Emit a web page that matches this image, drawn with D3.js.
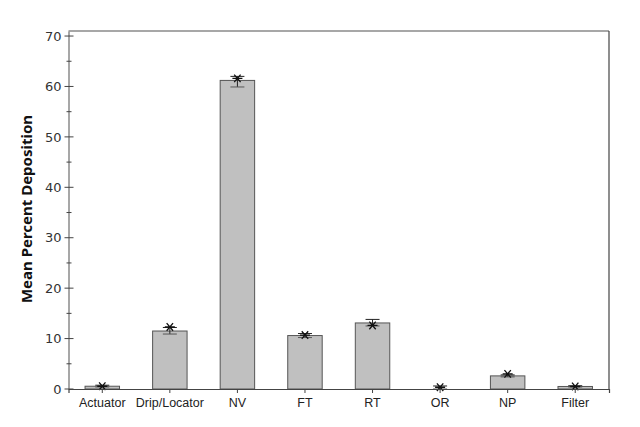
<!DOCTYPE html>
<html>
<head>
<meta charset="utf-8">
<script src="https://cdn.jsdelivr.net/npm/d3@7"></script>
<style>
  body { margin: 0; background: #fff; }
  text { font-family: "Noto Sans", "Open Sans", sans-serif; }
</style>
</head>
<body>
<div id="chart"></div>
<script>
// categories and values
var categories = ["Actuator", "Drip/Locator", "NV", "FT", "RT", "OR", "NP", "Filter"];
var means      = [0.55, 11.5, 61.2, 10.6, 13.1, 0, 2.6, 0.5];
var errLow     = [0.4, 10.9, 59.9, 10.2, 12.5, 0.0, 2.4, 0.4];
var errHigh    = [0.75, 12.2, 62.0, 11.0, 13.8, 0.6, 2.8, 0.65];
var stars      = [0.55, 12.3, 61.6, 10.7, 12.6, 0.35, 3.0, 0.5];
var yTicks     = [0, 10, 20, 30, 40, 50, 60, 70];

var rows = categories.map(function(c, i) {
	return {cat: c, mean: means[i], lo: errLow[i], hi: errHigh[i], star: stars[i]};
});

var margin = {top: 31, right: 31, bottom: 38, left: 68.5};
var width = 640 - margin.left - margin.right;
var height = 427 - margin.top - margin.bottom;

var svg = d3.select("#chart").append("svg")
	.attr("width", 640)
	.attr("height", 427)
	.append("g")
	.attr("transform", "translate(" + margin.left + "," + margin.top + ")");

var x = d3.scaleBand()
	.domain(categories)
	.range([0, width])
	.paddingInner(0.49)
	.paddingOuter(0.245);

var y = d3.scaleLinear()
	.domain([0, 71])
	.range([height, 0]);

// box: top and right
svg.append("line").attr("x1", 0).attr("x2", width).attr("y1", 0).attr("y2", 0)
	.attr("stroke", "#8a8a8a").attr("stroke-width", 1.5);
svg.append("line").attr("x1", width).attr("x2", width).attr("y1", 0).attr("y2", height)
	.attr("stroke", "#444").attr("stroke-width", 1.2);

// bars
svg.selectAll(".bar")
	.data(rows.filter(function(d) { return d.mean > 0; }))
	.enter().append("rect")
	.attr("class", "bar")
	.attr("x", function(d) { return x(d.cat); })
	.attr("width", x.bandwidth())
	.attr("y", function(d) { return y(d.mean); })
	.attr("height", function(d) { return height - y(d.mean); })
	.attr("fill", "#c0c0c0")
	.attr("stroke", "#555")
	.attr("stroke-width", 1);

// error bars
var cap = 7;
var eb = svg.selectAll(".err").data(rows).enter().append("g")
	.attr("class", "err")
	.attr("stroke", "#222")
	.attr("stroke-width", 1);
eb.append("line")
	.attr("x1", function(d) { return x(d.cat) + x.bandwidth() / 2; })
	.attr("x2", function(d) { return x(d.cat) + x.bandwidth() / 2; })
	.attr("y1", function(d) { return y(d.lo); })
	.attr("y2", function(d) { return y(d.hi); });
eb.append("line")
	.attr("x1", function(d) { return x(d.cat) + x.bandwidth() / 2 - cap; })
	.attr("x2", function(d) { return x(d.cat) + x.bandwidth() / 2 + cap; })
	.attr("y1", function(d) { return y(d.hi); })
	.attr("y2", function(d) { return y(d.hi); });
eb.append("line")
	.attr("x1", function(d) { return x(d.cat) + x.bandwidth() / 2 - cap; })
	.attr("x2", function(d) { return x(d.cat) + x.bandwidth() / 2 + cap; })
	.attr("y1", function(d) { return y(d.lo); })
	.attr("y2", function(d) { return y(d.lo); })
	.attr("stroke", "#555");

// star markers
var starPath = "M-5,0L5,0M-3.2,-3.8L3.2,3.8M-3.2,3.8L3.2,-3.8";
svg.selectAll(".star").data(rows).enter().append("path")
	.attr("class", "star")
	.attr("d", starPath)
	.attr("transform", function(d) {
		return "translate(" + (x(d.cat) + x.bandwidth() / 2) + "," + y(d.star) + ")";
	})
	.attr("stroke", "#111")
	.attr("stroke-width", 1.3)
	.attr("fill", "none");

// y axis
var yAxis = svg.append("g")
	.call(d3.axisLeft(y).tickValues(yTicks).tickSize(0).tickPadding(7));
yAxis.select(".domain").attr("stroke", "#8a8a8a").attr("stroke-width", 1.5);
yAxis.selectAll("text")
	.style("font-family", "'DejaVu Sans', sans-serif")
	.style("font-size", "13px").attr("fill", "#333");

svg.selectAll(".ytick")
	.data(d3.range(0, 71, 5))
	.enter().append("line")
	.attr("class", "ytick")
	.attr("x1", function(d) { return d % 10 === 0 ? -4 : -2; })
	.attr("x2", function(d) { return d % 10 === 0 ? 5 : 3; })
	.attr("y1", function(d) { return y(d); })
	.attr("y2", function(d) { return y(d); })
	.attr("stroke", "#444")
	.attr("stroke-width", 1);

// x axis
var xAxis = svg.append("g")
	.attr("transform", "translate(0," + height + ")")
	.call(d3.axisBottom(x).tickSize(4).tickPadding(5));
xAxis.select(".domain").attr("stroke", "#444").attr("stroke-width", 1.2);
xAxis.selectAll(".tick line").attr("stroke", "#444");
xAxis.selectAll("text")
	.style("font-family", "'Liberation Sans', Arial, sans-serif")
	.style("font-size", "12.5px").attr("fill", "#222");

// y label
svg.append("text")
	.attr("transform", "translate(" + (32 - margin.left) + "," + (height / 2 - 1) + ") rotate(-90)")
	.attr("text-anchor", "middle")
	.attr("font-size", 15)
	.attr("font-weight", "bold")
	.attr("fill", "#111")
	.text("Mean Percent Deposition");
</script>
</body>
</html>
